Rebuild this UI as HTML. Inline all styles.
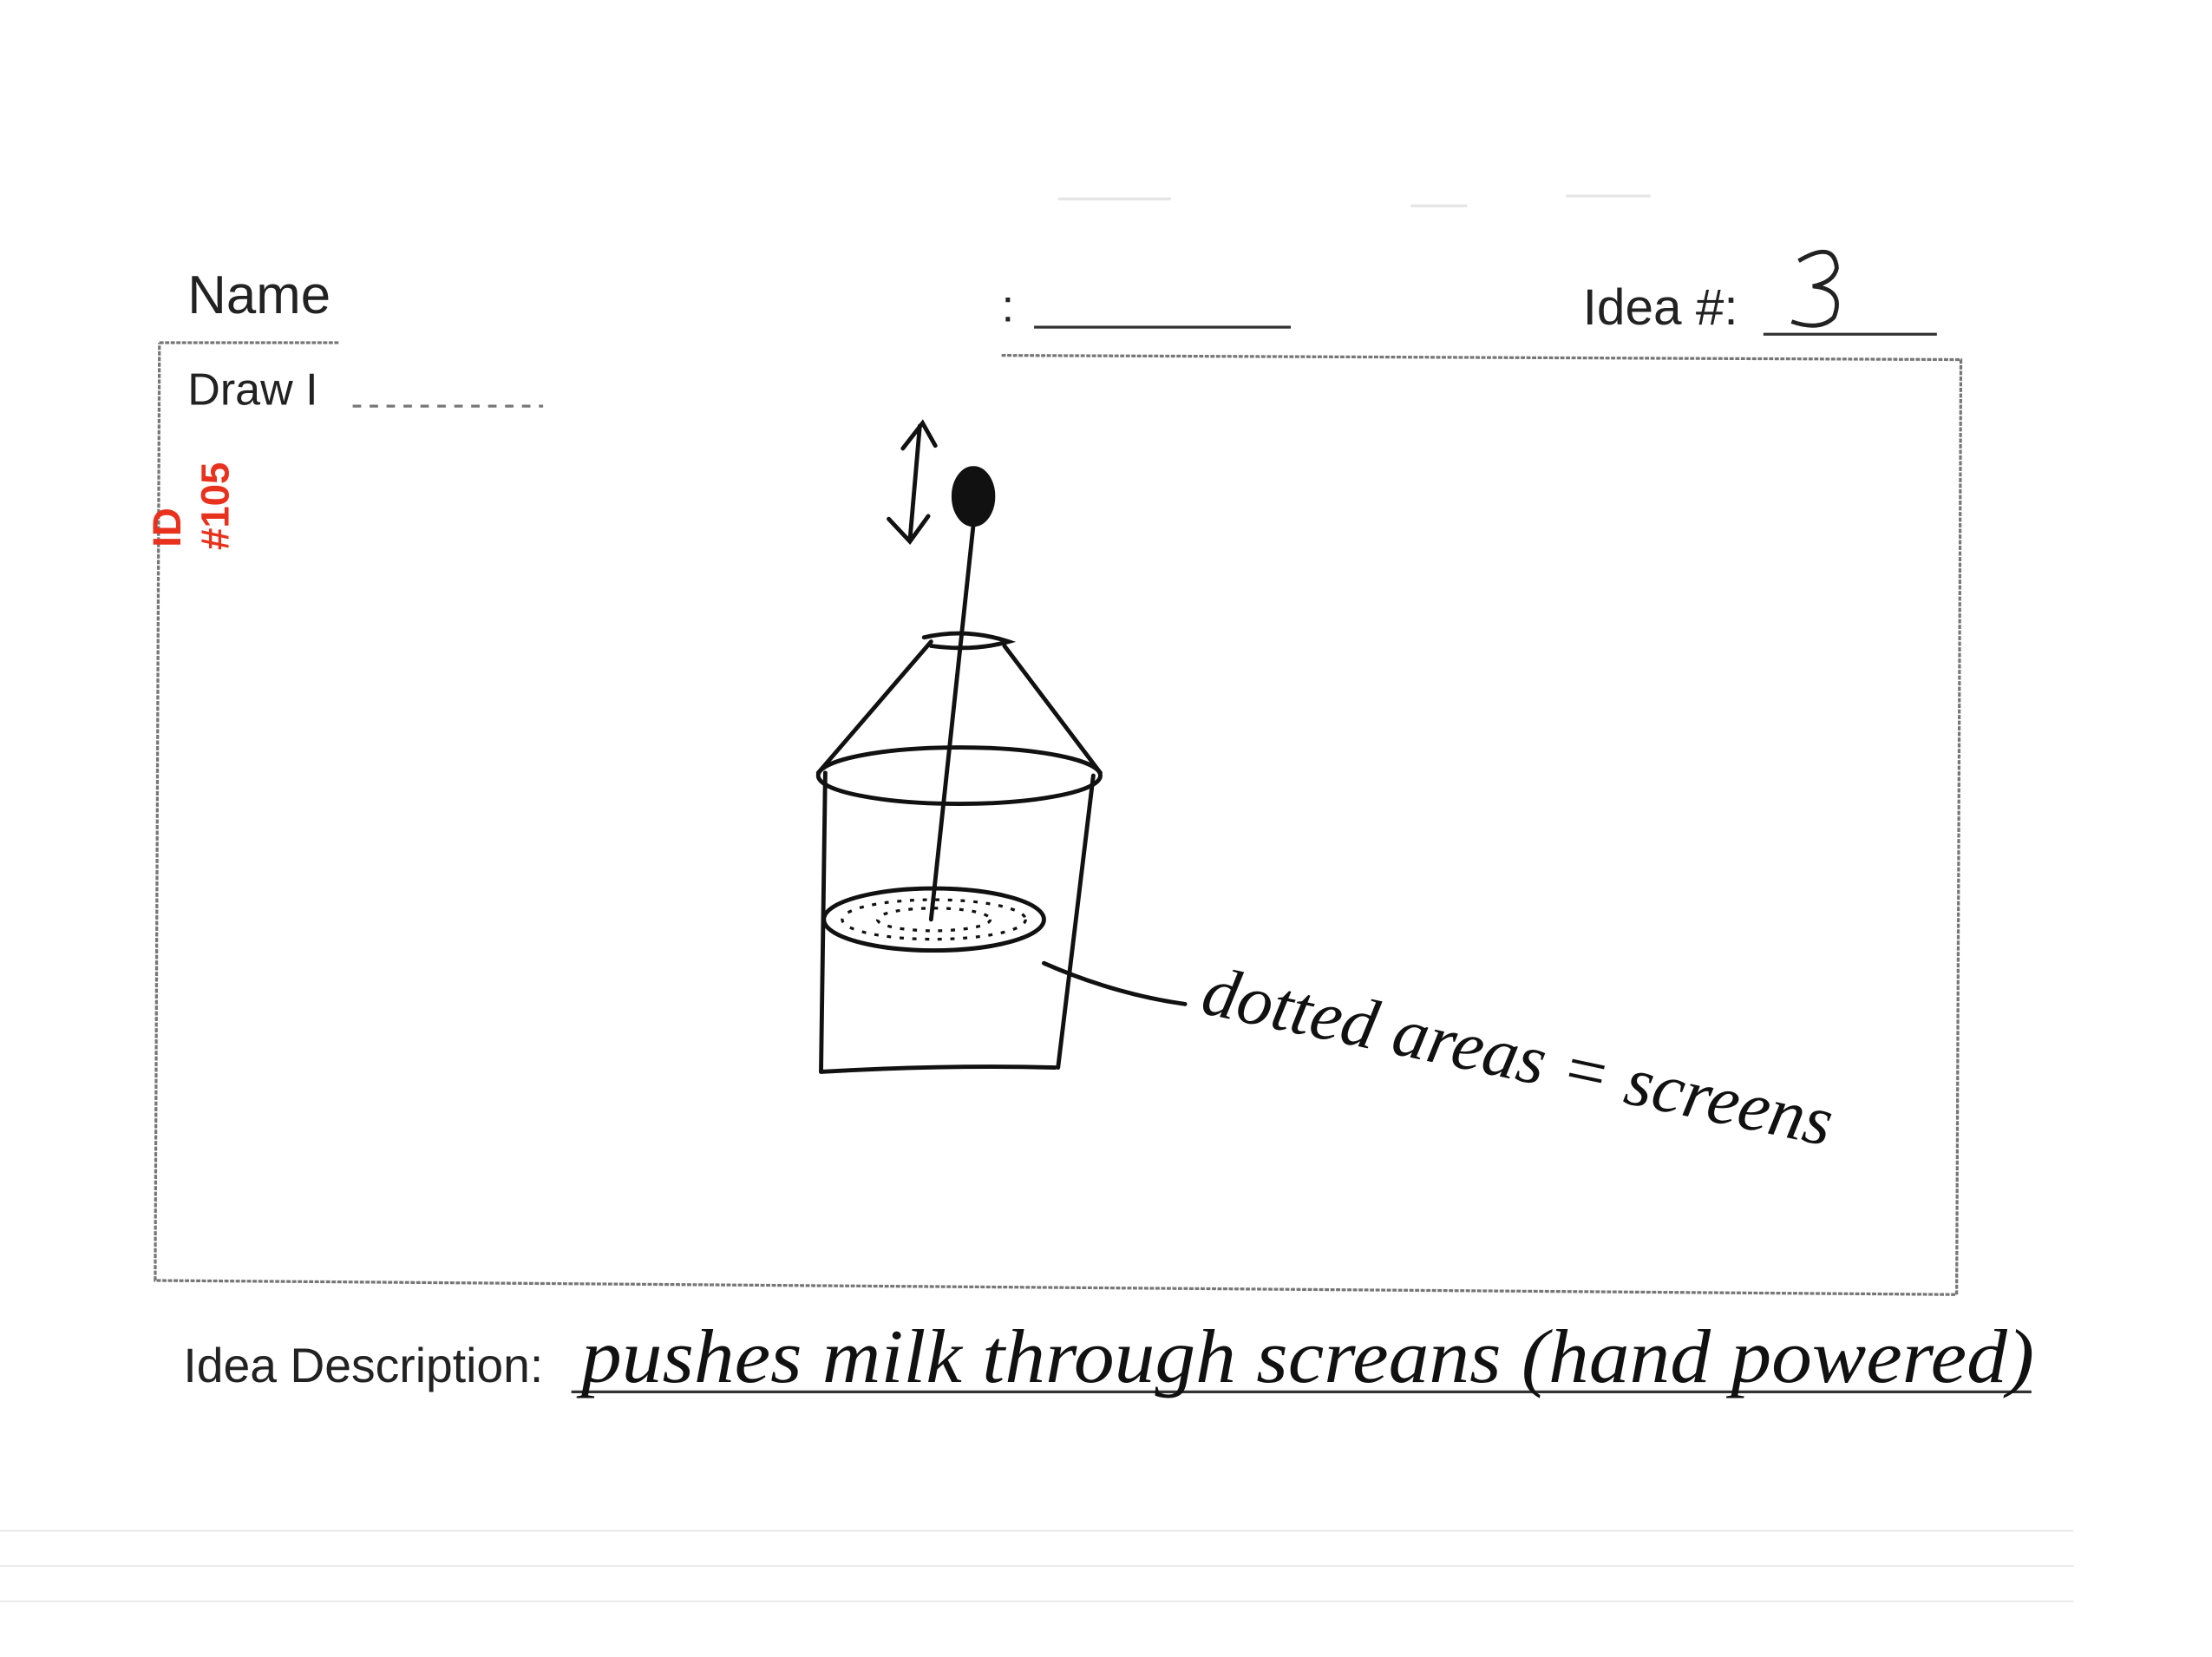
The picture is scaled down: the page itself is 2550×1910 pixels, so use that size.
<!DOCTYPE html>
<html><head><meta charset="utf-8"><style>
html,body{margin:0;padding:0;background:#fff;}
svg{display:block;width:2550px;height:1910px;}
</style></head><body>
<svg viewBox="0 0 1568 1175" preserveAspectRatio="none" xmlns="http://www.w3.org/2000/svg">
<rect width="1568" height="1175" fill="#fff"/>
<text x="133" y="222" font-family="Liberation Sans, sans-serif" font-size="38" fill="#222">Name</text>
<text x="710" y="228" font-family="Liberation Sans, sans-serif" font-size="32" fill="#222">:</text>
<line x1="733" y1="232" x2="915" y2="232" stroke="#333" stroke-width="2"/>
<text x="1122" y="230" font-family="Liberation Sans, sans-serif" font-size="36" fill="#222">Idea #:</text>
<path d="M1275 185 Q1300 170 1302 190 Q1300 200 1285 203 Q1308 205 1300 225 Q1290 235 1270 228" fill="none" stroke="#222" stroke-width="3"/>
<line x1="1250" y1="237" x2="1373" y2="237" stroke="#333" stroke-width="2"/>
<g stroke="#777" stroke-width="2" fill="none" stroke-dasharray="3 1">
<path d="M113 243 L240 243"/>
<path d="M710 252 L1390 255 L1387 918 L110 908 L113 243"/>
<path d="M250 288 L385 288" stroke-dasharray="6 6"/>
</g>
<text x="133" y="287" font-family="Liberation Sans, sans-serif" font-size="32" fill="#222">Draw I</text>
<g fill="#e8321e" font-family="Liberation Sans, sans-serif" font-weight="bold" font-size="28">
<text transform="translate(128,388) rotate(-90)">ID</text>
<text transform="translate(162,390) rotate(-90)">#105</text>
</g>
<g stroke="#111" stroke-width="3" fill="none" stroke-linecap="round">
<path d="M652 302 L645 383"/>
<path d="M640 318 L654 300 L663 316"/>
<path d="M630 368 L645 384 L658 366"/>
<ellipse cx="690" cy="352" rx="14" ry="20" fill="#111"/>
<path d="M690 372 L660 652"/>
<path d="M655 452 Q685 445 715 455 Q690 462 660 458"/>
<path d="M660 455 L580 548"/>
<path d="M712 458 L780 548"/>
<ellipse cx="680" cy="550" rx="100" ry="20"/>
<path d="M585 548 L582 760"/>
<path d="M775 550 L750 757"/>
<path d="M582 760 Q670 755 748 757"/>
<ellipse cx="662" cy="652" rx="78" ry="22"/>
<path d="M740 683 Q790 705 840 712"/>
</g>
<g stroke="#111" stroke-width="2" stroke-dasharray="3 6">
<ellipse cx="662" cy="652" rx="65" ry="14" fill="none"/>
<ellipse cx="662" cy="652" rx="40" ry="8" fill="none"/>
</g>
<text transform="translate(850,718) rotate(12)" font-family="Liberation Serif, serif" font-style="italic" font-size="50" fill="#111" textLength="455" lengthAdjust="spacingAndGlyphs">dotted areas = screens</text>
<text x="130" y="980" font-family="Liberation Sans, sans-serif" font-size="34" fill="#222">Idea Description:</text>
<line x1="405" y1="987" x2="1440" y2="987" stroke="#333" stroke-width="2"/>
<text x="412" y="980" font-family="Liberation Serif, serif" font-style="italic" font-size="54" fill="#111" textLength="1030" lengthAdjust="spacingAndGlyphs">pushes milk through screans (hand powered)</text>
<g fill="#ccc" opacity="0.5">
<rect x="0" y="1085" width="1470" height="1"/>
<rect x="0" y="1110" width="1470" height="1"/>
<rect x="0" y="1135" width="1470" height="1"/>
<rect x="750" y="140" width="80" height="2"/>
<rect x="1000" y="145" width="40" height="2"/>
<rect x="1110" y="138" width="60" height="2"/>
</g>
</svg>
</body></html>
